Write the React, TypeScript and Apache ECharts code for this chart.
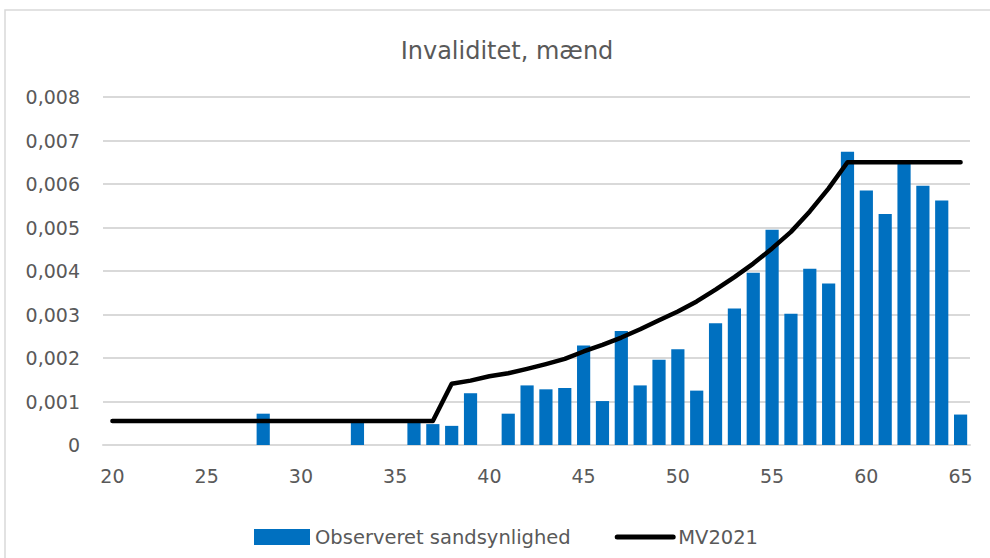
import React, { useEffect, useRef } from "react";
import * as echarts from "echarts";

const ages: string[] = [];
for (let a = 20; a <= 65; a++) ages.push(String(a));

// Observed probability (bars), ages 20..65
const observed: number[] = [
  0, 0, 0, 0, 0, 0, 0, 0, 0.00072, 0, // 20-29
  0, 0, 0, 0.00055, 0, 0, 0.00055, 0.00048, 0.00044, 0.00119, // 30-39
  0, 0.00072, 0.00137, 0.00128, 0.00131, 0.00229, 0.00101, 0.00262, 0.00137, 0.00196, // 40-49
  0.0022, 0.00125, 0.0028, 0.00314, 0.00396, 0.00495, 0.00302, 0.00405, 0.00371, 0.00674, // 50-59
  0.00585, 0.00531, 0.0065, 0.00596, 0.00562, 0.0007, // 60-65
];

// MV2021 (line), ages 20..65
const mv2021: number[] = [
  0.00055, 0.00055, 0.00055, 0.00055, 0.00055, 0.00055, 0.00055, 0.00055, 0.00055, 0.00055, // 20-29
  0.00055, 0.00055, 0.00055, 0.00055, 0.00055, 0.00055, 0.00055, 0.00055, 0.00141, 0.00148, // 30-39
  0.00158, 0.00165, 0.00175, 0.00186, 0.00198, 0.00215, 0.0023, 0.00247, 0.00266, 0.00287, // 40-49
  0.00307, 0.0033, 0.00357, 0.00386, 0.00417, 0.00452, 0.0049, 0.00537, 0.0059, 0.0065, // 50-59
  0.0065, 0.0065, 0.0065, 0.0065, 0.0065, 0.0065, // 60-65
];

const TEXT = "#595959";
const FONT = "DejaVu Sans";

export default function App() {
  const ref = useRef<HTMLDivElement>(null);
  useEffect(() => {
    if (!ref.current) return;
    const chart = echarts.init(ref.current, undefined, { renderer: "svg" });
    chart.setOption({
      animation: false,
      backgroundColor: "#ffffff",
      title: {
        text: "Invaliditet, mænd",
        left: 502,
        top: 34,
        textAlign: "center",
        textStyle: { color: TEXT, fontFamily: FONT, fontSize: 24, fontWeight: "normal" },
      },
      graphic: [
        {
          type: "rect",
          shape: { x: 5, y: 10, width: 1000, height: 600 },
          style: { fill: "none", stroke: "#d9d9d9", lineWidth: 1.5 },
          silent: true,
        },
      ],
      legend: {
        left: 249,
        top: 522,
        itemWidth: 56,
        itemHeight: 16,
        itemGap: 44,
        textStyle: { color: TEXT, fontFamily: FONT, fontSize: 19.5 },
        data: [
          { name: "Observeret sandsynlighed", icon: "rect" },
          {
            name: "MV2021",
            itemStyle: { opacity: 0 },
            lineStyle: { width: 5, cap: "round", color: "#000000" },
          },
        ],
      },
      grid: { left: 103, right: 20, top: 97, bottom: 113 },
      xAxis: {
        type: "category",
        data: ages,
        axisLine: { lineStyle: { color: "#d9d9d9", width: 2 } },
        axisTick: { show: false },
        axisLabel: {
          interval: 4,
          color: TEXT,
          fontFamily: FONT,
          fontSize: 19,
          margin: 21,
        },
      },
      yAxis: {
        type: "value",
        min: 0,
        max: 0.008,
        interval: 0.001,
        axisLine: { show: false },
        axisTick: { show: false },
        splitLine: { lineStyle: { color: "#d9d9d9", width: 2 } },
        axisLabel: {
          color: TEXT,
          fontFamily: FONT,
          fontSize: 19,
          margin: 23,
          formatter: (v: number) => (v === 0 ? "0" : v.toFixed(3).replace(".", ",")),
        },
      },
      series: [
        {
          name: "Observeret sandsynlighed",
          type: "bar",
          data: observed,
          barWidth: "70%",
          itemStyle: { color: "#0070C0" },
        },
        {
          name: "MV2021",
          type: "line",
          data: mv2021,
          symbol: "none",
          smooth: false,
          itemStyle: { color: "#000000" },
          lineStyle: { color: "#000000", width: 4.5, cap: "round", join: "round" },
          z: 3,
        },
      ],
    });
    return () => chart.dispose();
  }, []);
  return (
    <div
      ref={ref}
      style={{ position: "fixed", left: 0, top: 0, width: 990, height: 558 }}
    />
  );
}
